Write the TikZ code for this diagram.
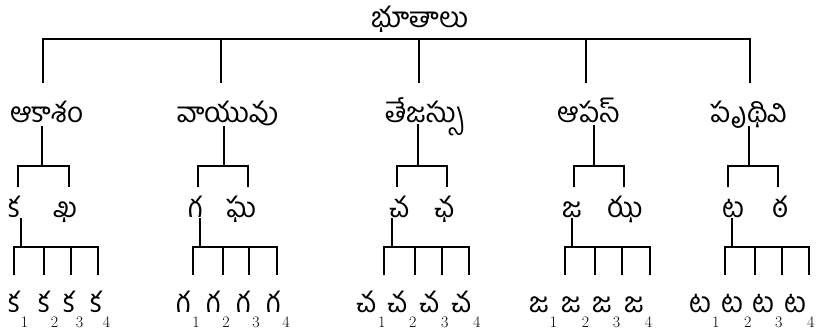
\documentclass[tikz,border=0pt]{standalone}
\usepackage{fontspec}
\newfontfamily\telugu[Script=Telugu]{Hind Guntur}
\newcommand{\subidx}[1]{\rlap{\kern1pt\raisebox{-15pt}{\rmfamily\fontsize{16}{16}\selectfont #1}}}
\tikzset{
	%Define style for the labels
	tlabel/.style={
	       font=\fontsize{28}{32}\selectfont\telugu,
	       inner sep=0pt,
	       anchor=base},
	% Define style for the branches
	branch/.style={
	       line width=2.8pt,
	       line cap=butt}
}

\begin{document}
\begin{tikzpicture}[x=1pt, y=-1pt] % pixel grid, y downwards
	\useasboundingbox (0,0) rectangle (816,335);
	% root
	\node[tlabel](bhutalu) at (420,27){భూతాలు};
	\coordinate (rootbar) at (420,39);
	% first level
	\node[tlabel](akasam) at (47,122){ఆకాశం};
	\node[tlabel](vayuvu) at (228,122){వాయువు};
	\node[tlabel](tejas) at (425,122){తేజస్సు};
	\node[tlabel](apas) at (589,122){ఆపస్};
	\node[tlabel](pruthivi) at (749,122){పృథివి};
	\coordinate (akasam-in) at (43,83);
	\coordinate (vayuvu-in) at (221,83);
	\coordinate (tejas-in) at (419,83);
	\coordinate (apas-in) at (586,83);
	\coordinate (pruthivi-in) at (750,83);
	\draw[branch] (akasam-in) |- (rootbar) -| (pruthivi-in);
	\draw[branch] (vayuvu-in) -- (vayuvu-in |- rootbar);
	\draw[branch] (tejas-in) -- (tejas-in |- rootbar);
	\draw[branch] (apas-in) -- (apas-in |- rootbar);
	% second level
	\node[tlabel](ka) at (14,217){క};
	\node[tlabel](kha) at (65,217){ఖ};
	\node[tlabel](ga) at (196,217){గ};
	\node[tlabel](gha) at (242,217){ఘ};
	\node[tlabel](ca) at (400,217){చ};
	\node[tlabel](cha) at (445,217){ఛ};
	\node[tlabel](ja) at (572,217){జ};
	\node[tlabel](jha) at (625,217){ఝ};
	\node[tlabel](ta) at (733,217){ట};
	\node[tlabel](tha) at (780,217){ఠ};
	\coordinate (akasam-out) at (42,126);
	\coordinate (vayuvu-out) at (224,126);
	\coordinate (tejas-out) at (418,124);
	\coordinate (apas-out) at (594,125);
	\coordinate (pruthivi-out) at (749,126);
	\coordinate (akasam-fork) at (42,166);
	\coordinate (vayuvu-fork) at (224,166);
	\coordinate (tejas-fork) at (418,166);
	\coordinate (apas-fork) at (594,166);
	\coordinate (pruthivi-fork) at (749,166);
	\coordinate (ka-in) at (18,187);
	\coordinate (kha-in) at (69,187);
	\coordinate (ga-in) at (198,187);
	\coordinate (gha-in) at (248,187);
	\coordinate (ca-in) at (397,187);
	\coordinate (cha-in) at (447,187);
	\coordinate (ja-in) at (574,187);
	\coordinate (jha-in) at (624,187);
	\coordinate (ta-in) at (728,187);
	\coordinate (tha-in) at (778,187);
	\draw[branch] (akasam-out) -- (akasam-fork);
	\draw[branch] (ka-in) |- (akasam-fork) -| (kha-in);
	\draw[branch] (vayuvu-out) -- (vayuvu-fork);
	\draw[branch] (ga-in) |- (vayuvu-fork) -| (gha-in);
	\draw[branch] (tejas-out) -- (tejas-fork);
	\draw[branch] (ca-in) |- (tejas-fork) -| (cha-in);
	\draw[branch] (apas-out) -- (apas-fork);
	\draw[branch] (ja-in) |- (apas-fork) -| (jha-in);
	\draw[branch] (pruthivi-out) -- (pruthivi-fork);
	\draw[branch] (ta-in) |- (pruthivi-fork) -| (tha-in);
	% third level
	\node[tlabel](ka1) at (14,312){క\subidx{1}};
	\node[tlabel](ka2) at (44,312){క\subidx{2}};
	\node[tlabel](ka3) at (69,312){క\subidx{3}};
	\node[tlabel](ka4) at (96,312){క\subidx{4}};
	\node[tlabel](ga1) at (184,312){గ\subidx{1}};
	\node[tlabel](ga2) at (214,312){గ\subidx{2}};
	\node[tlabel](ga3) at (244,312){గ\subidx{3}};
	\node[tlabel](ga4) at (274,312){గ\subidx{4}};
	\node[tlabel](ca1) at (367,312){చ\subidx{1}};
	\node[tlabel](ca2) at (398,312){చ\subidx{2}};
	\node[tlabel](ca3) at (430,312){చ\subidx{3}};
	\node[tlabel](ca4) at (462,312){చ\subidx{4}};
	\node[tlabel](ja1) at (539,312){జ\subidx{1}};
	\node[tlabel](ja2) at (571,312){జ\subidx{2}};
	\node[tlabel](ja3) at (602,312){జ\subidx{3}};
	\node[tlabel](ja4) at (634,312){జ\subidx{4}};
	\node[tlabel](ta1) at (700,312){ట\subidx{1}};
	\node[tlabel](ta2) at (732,312){ట\subidx{2}};
	\node[tlabel](ta3) at (763,312){ట\subidx{3}};
	\node[tlabel](ta4) at (795,312){ట\subidx{4}};
	\coordinate (ka-out) at (21,218);
	\coordinate (ga-out) at (200,218);
	\coordinate (ca-out) at (392,218);
	\coordinate (ja-out) at (572,218);
	\coordinate (ta-out) at (732,218);
	\coordinate (ka-fork) at (21,247);
	\coordinate (ga-fork) at (200,247);
	\coordinate (ca-fork) at (392,247);
	\coordinate (ja-fork) at (572,247);
	\coordinate (ta-fork) at (732,247);
	\coordinate (ka1-in) at (14,275);
	\coordinate (ka2-in) at (44,275);
	\coordinate (ka3-in) at (71,275);
	\coordinate (ka4-in) at (98,275);
	\coordinate (ga1-in) at (193,275);
	\coordinate (ga2-in) at (223,275);
	\coordinate (ga3-in) at (249,275);
	\coordinate (ga4-in) at (277,275);
	\coordinate (ca1-in) at (384,275);
	\coordinate (ca2-in) at (415,275);
	\coordinate (ca3-in) at (442,275);
	\coordinate (ca4-in) at (469,275);
	\coordinate (ja1-in) at (565,275);
	\coordinate (ja2-in) at (595,275);
	\coordinate (ja3-in) at (622,275);
	\coordinate (ja4-in) at (650,275);
	\coordinate (ta1-in) at (725,275);
	\coordinate (ta2-in) at (755,275);
	\coordinate (ta3-in) at (782,275);
	\coordinate (ta4-in) at (809,275);
	\draw[branch] (ka-out) -- (ka-fork);
	\draw[branch] (ka1-in) |- (ka-fork) -| (ka4-in);
	\draw[branch] (ka2-in) -- (ka2-in |- ka-fork);
	\draw[branch] (ka3-in) -- (ka3-in |- ka-fork);
	\draw[branch] (ga-out) -- (ga-fork);
	\draw[branch] (ga1-in) |- (ga-fork) -| (ga4-in);
	\draw[branch] (ga2-in) -- (ga2-in |- ga-fork);
	\draw[branch] (ga3-in) -- (ga3-in |- ga-fork);
	\draw[branch] (ca-out) -- (ca-fork);
	\draw[branch] (ca1-in) |- (ca-fork) -| (ca4-in);
	\draw[branch] (ca2-in) -- (ca2-in |- ca-fork);
	\draw[branch] (ca3-in) -- (ca3-in |- ca-fork);
	\draw[branch] (ja-out) -- (ja-fork);
	\draw[branch] (ja1-in) |- (ja-fork) -| (ja4-in);
	\draw[branch] (ja2-in) -- (ja2-in |- ja-fork);
	\draw[branch] (ja3-in) -- (ja3-in |- ja-fork);
	\draw[branch] (ta-out) -- (ta-fork);
	\draw[branch] (ta1-in) |- (ta-fork) -| (ta4-in);
	\draw[branch] (ta2-in) -- (ta2-in |- ta-fork);
	\draw[branch] (ta3-in) -- (ta3-in |- ta-fork);
\end{tikzpicture}
\end{document}
